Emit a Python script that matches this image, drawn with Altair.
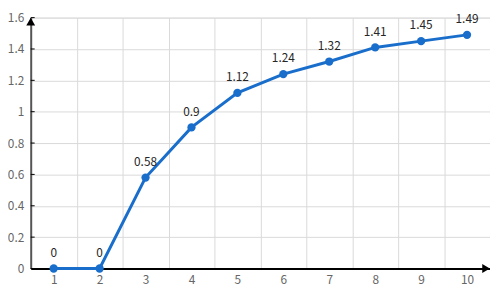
import altair as alt
import pandas as pd

categories = ["1", "2", "3", "4", "5", "6", "7", "8", "9", "10"]
values = [0, 0, 0.58, 0.9, 1.12, 1.24, 1.32, 1.41, 1.45, 1.49]
labels = ["0", "0", "0.58", "0.9", "1.12", "1.24", "1.32", "1.41", "1.45", "1.49"]
y_ticks = [0, 0.2, 0.4, 0.6, 0.8, 1.0, 1.2, 1.4, 1.6]

df = pd.DataFrame({"x": categories, "y": values, "label": labels})
ticks_df = pd.DataFrame({"t": y_ticks})

FONT = "Noto Sans CJK SC"
BLUE = "#1a6ecb"
W, H = 465, 254

x_enc = alt.X("x:N", sort=categories,
              scale=alt.Scale(paddingInner=0, paddingOuter=0),
              axis=alt.Axis(title=None, labelAngle=0, tickBand="extent", grid=True,
                            gridColor="#d9d9d9", gridWidth=1, domainColor="#000000",
                            domainWidth=2, ticks=False, labelColor="#666666",
                            labelFontSize=12, labelFont=FONT, labelPadding=6))
y_scale = alt.Scale(domain=[0, 1.6], nice=False)
y_enc = alt.Y("y:Q", scale=y_scale,
              axis=alt.Axis(title=None, values=y_ticks, tickCount=20, format="~g", grid=True,
                            gridColor="#d9d9d9", gridWidth=1, domainColor="#555555",
                            domainWidth=2, ticks=False, labelColor="#666666",
                            labelFontSize=12, labelFont=FONT, labelPadding=7,
                            labelOverlap=False, labelFlush=False))

line = alt.Chart(df).mark_line(color=BLUE, strokeWidth=3).encode(x=x_enc, y=y_enc)
pts = alt.Chart(df).mark_circle(color=BLUE, size=70, opacity=1).encode(x=x_enc, y=y_enc)
txt = alt.Chart(df).mark_text(dy=-16, fontSize=12, font=FONT, color="#262626").encode(
    x=x_enc, y=y_enc, text="label:N")

ytick_marks = alt.Chart(ticks_df).mark_rule(color="#000000", strokeWidth=1).encode(
    y=alt.Y("t:Q", scale=y_scale), x=alt.value(0), x2=alt.value(4))

y_arrow = alt.Chart(pd.DataFrame({"v": [1.6]})).mark_point(
    shape="triangle-up", filled=True, color="#000000", size=80, opacity=1, yOffset=4).encode(
    y=alt.Y("v:Q", scale=y_scale), x=alt.value(0))
x_arrow = alt.Chart(pd.DataFrame({"v": [0]})).mark_point(
    shape="triangle-right", filled=True, color="#000000", size=80, opacity=1).encode(
    y=alt.Y("v:Q", scale=y_scale), x=alt.value(W - 4))

chart = alt.layer(line, pts, txt, ytick_marks, y_arrow, x_arrow).properties(
    width=W, height=H,
    autosize=alt.AutoSizeParams(type="none"),
    padding={"left": 23, "top": 8, "right": 0, "bottom": 18},
).configure_view(stroke=None).configure(background="#ffffff")

chart.save("out.html", embed_options={"renderer": "svg", "actions": False})
